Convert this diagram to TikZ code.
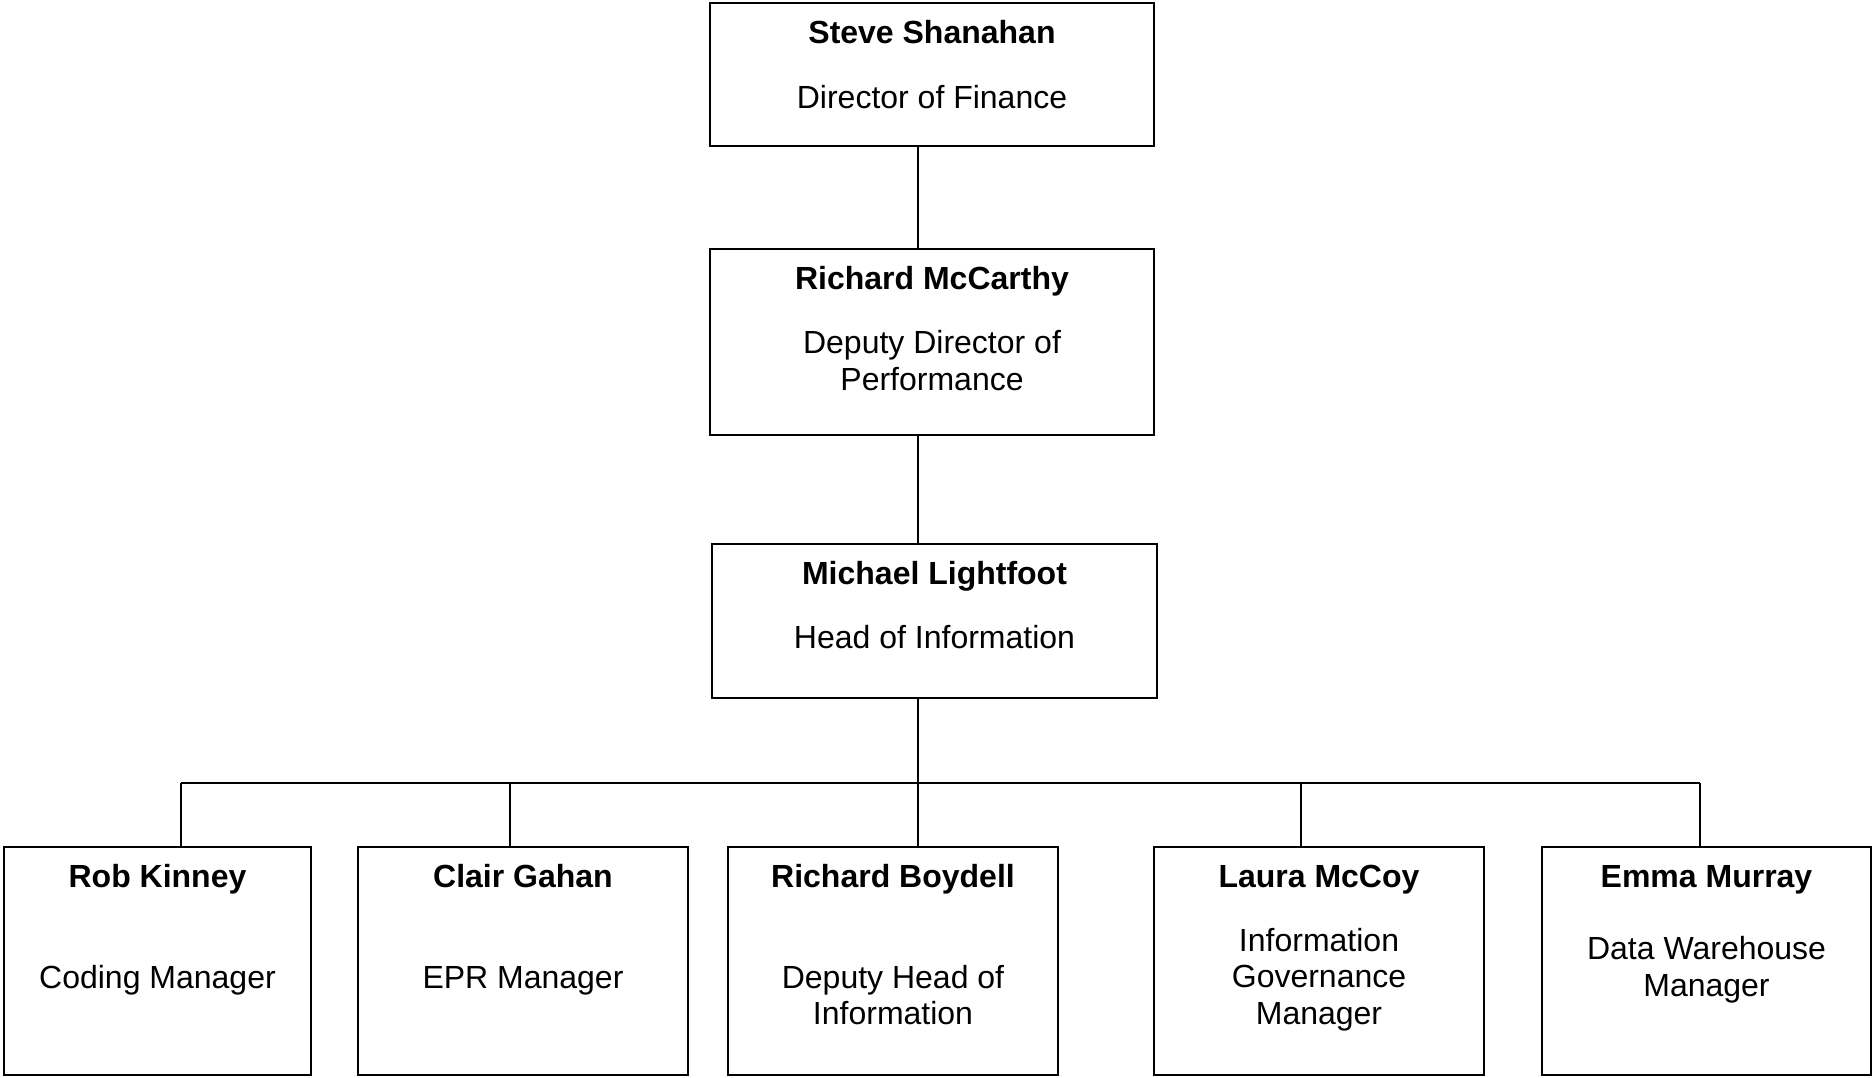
\documentclass[tikz,border=0pt]{standalone}
\usepackage{fontspec}
\setmainfont{Liberation Sans}
\begin{document}
\begin{tikzpicture}[x=0.5pt,y=-0.5pt,
  box/.style={draw, line width=1pt, inner sep=0pt, minimum height=#1},
  box/.default=114pt,
  pname/.style={font=\fontsize{16pt}{19pt}\selectfont\bfseries, anchor=base, inner sep=0pt},
  prole/.style={font=\fontsize{16pt}{19pt}\selectfont, anchor=base, inner sep=0pt},
  link/.style={line width=1pt}]
\useasboundingbox (0,0) rectangle (1872,1077);
% boxes
\node[box=71.5pt, minimum width=222pt] (steve) at (932,74.5) {};
\node[box=93pt, minimum width=222pt] (mccarthy) at (932,342) {};
\node[box=77pt, minimum width=222.5pt] (michael) at (934.5,621) {};
\node[box, minimum width=153.5pt] (rob) at (157.5,961) {};
\node[box, minimum width=165pt] (clair) at (523,961) {};
\node[box, minimum width=165pt] (boydell) at (893,961) {};
\node[box, minimum width=165pt] (laura) at (1319,961) {};
\node[box, minimum width=164.5pt] (emma) at (1706.5,961) {};
% texts
\node[pname] (steveN) at ([yshift=-20.5pt]steve.north) {Steve Shanahan};
\node[prole] (steveR) at ([yshift=-53pt]steve.north) {Director of Finance};
\node[pname] (mccarthyN) at ([yshift=-20.5pt]mccarthy.north) {Richard McCarthy};
\node[prole] (mccarthyR1) at ([yshift=-52.5pt]mccarthy.north) {Deputy Director of};
\node[prole] (mccarthyR2) at ([yshift=-71pt]mccarthy.north) {Performance};
\node[pname] (michaelN) at ([yshift=-20.5pt]michael.north) {Michael Lightfoot};
\node[prole] (michaelR) at ([yshift=-52.5pt]michael.north) {Head of Information};
\node[pname] (robN) at ([yshift=-20.5pt]rob.north) {Rob Kinney};
\node[prole] (robR) at ([yshift=-71pt]rob.north) {Coding Manager};
\node[pname] (clairN) at ([yshift=-20.5pt]clair.north) {Clair Gahan};
\node[prole] (clairR) at ([yshift=-71pt]clair.north) {EPR Manager};
\node[pname] (boydellN) at ([yshift=-20.5pt]boydell.north) {Richard Boydell};
\node[prole] (boydellR1) at ([yshift=-71pt]boydell.north) {Deputy Head of};
\node[prole] (boydellR2) at ([yshift=-89pt]boydell.north) {Information};
\node[pname] (lauraN) at ([yshift=-20.5pt]laura.north) {Laura McCoy};
\node[prole] (lauraR1) at ([yshift=-52.5pt]laura.north) {Information};
\node[prole] (lauraR2) at ([yshift=-70.5pt]laura.north) {Governance};
\node[prole] (lauraR3) at ([yshift=-89pt]laura.north) {Manager};
\node[pname] (emmaN) at ([yshift=-20.5pt]emma.north) {Emma Murray};
\node[prole] (emmaR1) at ([yshift=-56.5pt]emma.north) {Data Warehouse};
\node[prole] (emmaR2) at ([yshift=-75pt]emma.north) {Manager};
% connectors
\coordinate (trunk) at (917.5,783);
\coordinate (d1) at (181,783);
\coordinate (d2) at (510,783);
\coordinate (d4) at (1301,783);
\coordinate (d5) at (1700,783);
\draw[link] (steve.south -| trunk) -- (mccarthy.north -| trunk);
\draw[link] (mccarthy.south -| trunk) -- (michael.north -| trunk);
\draw[link] (michael.south -| trunk) -- (boydell.north -| trunk);
\draw[link] (d1) -- (d5);
\draw[link] (d1) -- (d1 |- rob.north);
\draw[link] (d2) -- (d2 |- clair.north);
\draw[link] (d4) -- (d4 |- laura.north);
\draw[link] (d5) -- (d5 |- emma.north);
\end{tikzpicture}
\end{document}
